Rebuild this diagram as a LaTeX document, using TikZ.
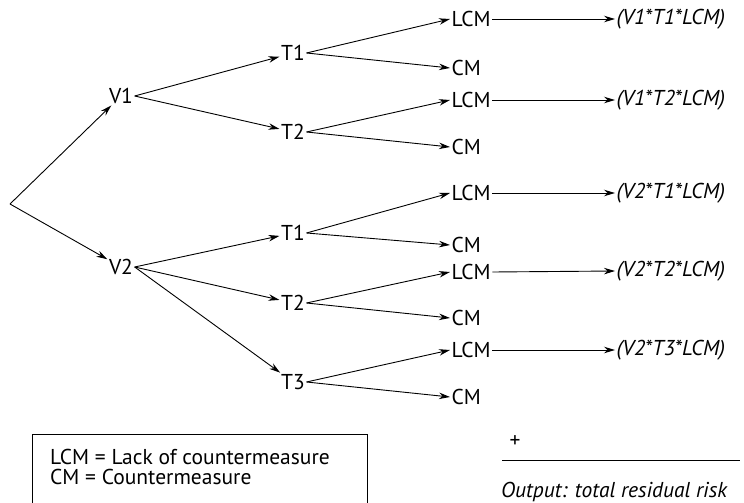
\documentclass[tikz,border=0pt]{standalone}
\usepackage{fontspec}
\setmainfont{PT Sans}
\usetikzlibrary{arrows.meta}
\begin{document}
\begin{tikzpicture}[x=1pt,y=-1pt,
  every node/.style={font=\fontsize{21.5}{23}\selectfont, inner sep=1.5pt},
  res/.style={anchor=west, font=\fontsize{21.5}{23}\selectfont\itshape},
  key/.style={anchor=base west, inner sep=0pt},
  arr/.style={line width=0.9pt, -{Stealth[length=11pt,width=6.5pt]}},
  rule/.style={line width=0.9pt}]
\useasboundingbox (0,0) rectangle (744,503);
\clip (0,0) rectangle (744,503);

% root of the tree
\coordinate (root) at (10,204);

% vulnerability level
\node (V1) at (121,96) {V1};
\node (V2) at (121,267) {V2};

% threat level
\node (T1a) at (293,53) {T1};
\node (T2a) at (293,132) {T2};
\node (T1b) at (293,233) {T1};
\node (T2b) at (293,303) {T2};
\node (T3b) at (293,382) {T3};

% countermeasure level
\node[anchor=west] (L1) at (450,19) {LCM};
\node[anchor=west] (C1) at (450,68) {CM};
\node[anchor=west] (L2) at (450,100) {LCM};
\node[anchor=west] (C2) at (450,147) {CM};
\node[anchor=west] (L3) at (450,193) {LCM};
\node[anchor=west] (C3) at (450,245) {CM};
\node[anchor=west] (L4) at (450,272) {LCM};
\node[anchor=west] (C4) at (450,318) {CM};
\node[anchor=west] (L5) at (450,350) {LCM};
\node[anchor=west] (C5) at (450,397) {CM};

% residual risk terms
\node[res] (R1) at (615,19) {(V1*T1*LCM)};
\node[res] (R2) at (615,100) {(V1*T2*LCM)};
\node[res] (R3) at (615,193) {(V2*T1*LCM)};
\node[res] (R4) at (615,271) {(V2*T2*LCM)};
\node[res] (R5) at (615,350) {(V2*T3*LCM)};

% connectors
\draw[arr] (root) -- (V1);
\draw[arr] (root) -- (V2);
\draw[arr] (V1.east) -- (T1a);
\draw[arr] (V1.east) -- (T2a);
\draw[arr] (V2.east) -- (T1b);
\draw[arr] (V2.east) -- (T2b);
\draw[arr] (V2.east) -- (T3b);
\foreach \t/\l/\c in {T1a/L1/C1, T2a/L2/C2, T1b/L3/C3, T2b/L4/C4, T3b/L5/C5}{
  \draw[arr] (\t.east) -- (\l.west);
  \draw[arr] (\t.east) -- (\c.west);
}
\foreach \l/\r in {L1/R1, L2/R2, L3/R3, L4/R4, L5/R5}{
  \draw[arr] (\l.east) -- (\r.west);
}

% legend
\draw[rule] (32,520) -- (32,434) -- (367,434) -- (367,520);
\node[key] (K1) at (50,464) {LCM = Lack of countermeasure};
\node[key] (K2) at (50,484) {CM = Countermeasure};

% sum of the residual risk terms
\node (plus) at (515,442) {+};
\coordinate (sumL) at (502,460);
\coordinate (sumR) at (740,460);
\draw[rule] (sumL) -- (sumR);
\node[anchor=base west, inner sep=0pt, font=\fontsize{21.5}{23}\selectfont\itshape] (out) at (501,497) {Output: total residual risk};
\end{tikzpicture}
\end{document}
